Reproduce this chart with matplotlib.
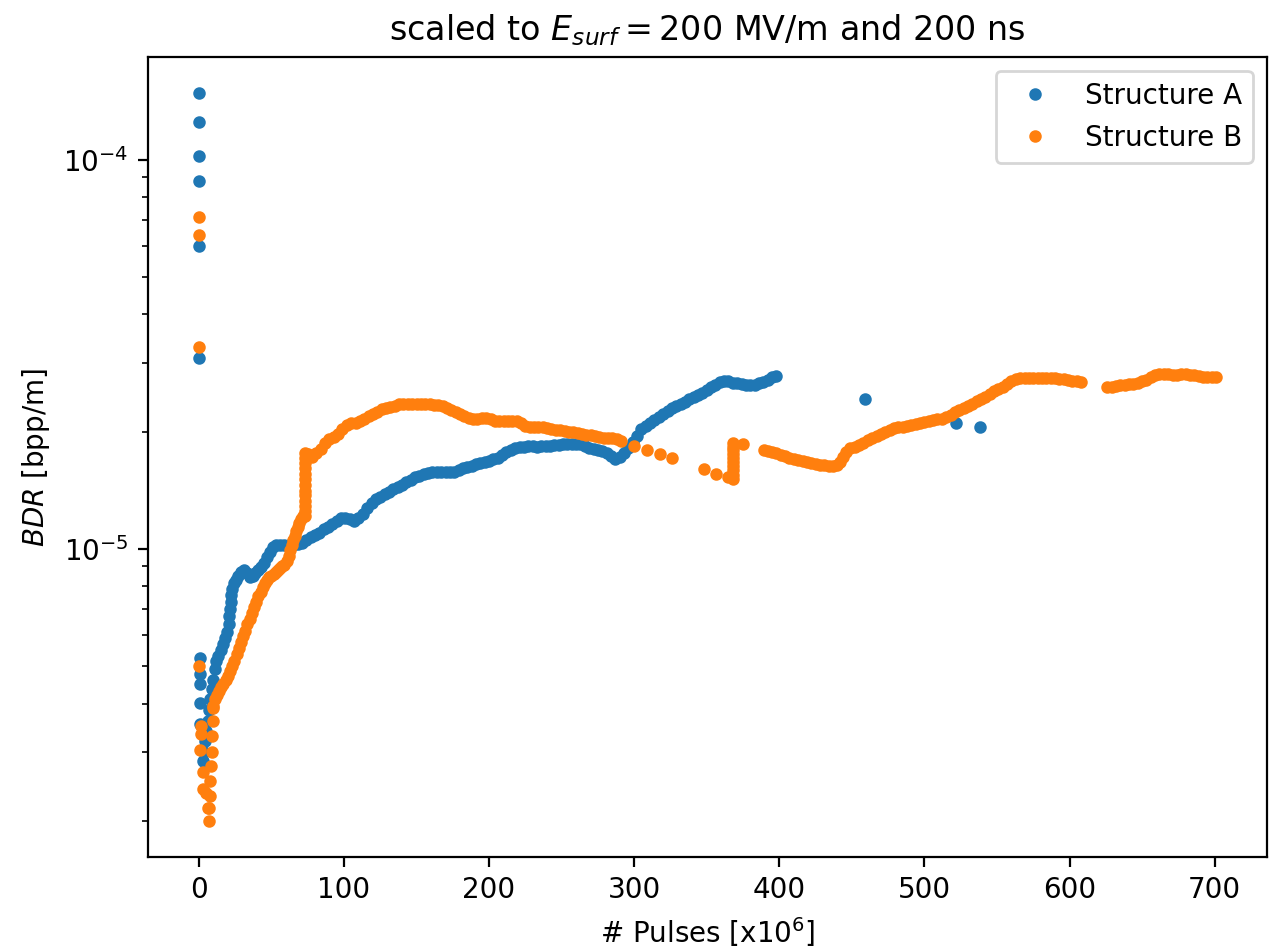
import matplotlib
matplotlib.use("Agg")
import matplotlib.pyplot as plt
import numpy as np

# BDR values are given in units of 1e-5 bpp/m, pulses in units of 1e6

# Structure A
xa = [0, 0, 0, 0, 0, 0,
      0.5, 0.5, 0.5, 0.5, 0.5,
      3, 3.5, 4, 5, 6, 7, 8, 9, 10, 11, 12, 13.5, 15, 16.5, 18, 19.5, 20.5, 21, 21.5, 22,
      22.5, 23, 24, 25.5, 27, 29, 31, 33, 35, 37, 39, 41, 43, 45, 47, 49, 51, 53, 56,
      59, 62, 65, 68, 71, 74, 77, 80, 83, 86, 89, 92, 95, 98, 101, 104, 107, 110, 113,
      116, 119, 122, 125, 128, 131, 134, 137, 140, 143, 146, 149, 152, 155, 158, 161,
      164, 167, 170, 173, 176, 179, 182, 185, 188, 191, 194, 197, 200, 203, 206, 209,
      212, 215, 218, 221, 224, 227, 230, 233, 236, 239, 242, 245, 248, 251, 254, 257,
      260, 263, 266, 269, 272, 275, 278, 281, 284, 287, 290, 293, 296, 299, 302, 305,
      308, 311, 314, 317, 320, 323, 326, 329, 332, 335, 338, 341, 344, 347, 350, 353,
      356, 359, 362, 365, 368, 371, 374, 377, 380, 383, 386, 389, 392, 395, 398,
      459, 522, 538]
ya = [14.8, 12.5, 10.2, 8.8, 6.0, 3.1,
      0.525, 0.477, 0.45, 0.402, 0.355,
      0.285, 0.30, 0.32, 0.34, 0.36, 0.385, 0.41, 0.435, 0.46, 0.49, 0.515, 0.53, 0.55,
      0.57, 0.59, 0.61, 0.64, 0.67, 0.70, 0.73,
      0.76, 0.79, 0.815, 0.83, 0.85, 0.87, 0.88, 0.865, 0.845, 0.85, 0.865, 0.88, 0.895,
      0.92, 0.95, 0.98, 1.01, 1.02, 1.02,
      1.02, 1.02, 1.025, 1.03, 1.035, 1.05, 1.07, 1.085, 1.10, 1.125, 1.14, 1.16, 1.18,
      1.20, 1.20, 1.19, 1.18, 1.20, 1.23,
      1.27, 1.31, 1.34, 1.36, 1.38, 1.40, 1.42, 1.44, 1.46, 1.48, 1.50, 1.525, 1.54,
      1.555, 1.565, 1.57,
      1.575, 1.575, 1.57, 1.57, 1.57, 1.59, 1.61, 1.625, 1.635, 1.65, 1.66, 1.67, 1.685,
      1.70, 1.715, 1.74,
      1.77, 1.79, 1.815, 1.825, 1.83, 1.835, 1.835, 1.83, 1.835, 1.84, 1.84, 1.845, 1.85,
      1.855, 1.86, 1.86,
      1.86, 1.86, 1.84, 1.82, 1.805, 1.79, 1.78, 1.76, 1.73, 1.70, 1.72, 1.76, 1.81,
      1.88, 1.95, 2.03,
      2.07, 2.10, 2.14, 2.18, 2.22, 2.26, 2.30, 2.33, 2.35, 2.38, 2.42, 2.45, 2.48, 2.52,
      2.56, 2.60,
      2.64, 2.68, 2.70, 2.69, 2.67, 2.66, 2.65, 2.64, 2.63, 2.64, 2.66, 2.68, 2.72, 2.76,
      2.78,
      2.42, 2.11, 2.05]

# Structure B
xb = [0, 0, 0, 0,
      0.5, 1.5, 1.5, 2.7, 2.7, 4.8, 6,
      9.5, 9.5, 9.3, 9, 8.5, 8, 7.5, 7.3, 7.3,
      9.5, 11, 12.5, 14, 15.5, 17, 18.5, 20, 21.5, 23, 24.5, 26, 27.5, 29, 30.5, 32,
      33.5, 35, 36.5, 38, 39.5, 41, 42.5, 44, 45.5, 47, 48.5, 50, 51.5, 53, 54.5, 56,
      57.5, 59, 60.5, 62, 63, 64, 65, 66, 67, 68, 69, 70.5, 72,
      73, 73, 73, 73, 73, 73, 73, 73, 73, 73, 73, 73, 73,
      75, 78, 81, 84, 87, 90, 93, 96, 99, 102, 105, 108, 111, 114, 117, 120, 123, 126,
      129, 132, 135, 138, 141, 144, 147, 150, 153, 156, 159, 162, 165, 168, 171, 174,
      177, 180, 183, 186, 189, 192, 195, 198, 201, 204, 207, 210, 213, 216, 219, 222,
      225, 228, 231, 234, 237, 240, 243, 246, 249, 252, 255, 258, 261, 264, 267, 270,
      273, 276, 279, 282, 285, 288, 291,
      300, 309, 318, 326, 348, 356.5, 364.5,
      368, 368, 368, 368, 368, 368, 368, 368, 368, 368, 375,
      389.5, 392, 395, 398, 401, 404, 407, 410, 413, 416, 419, 422, 425, 428, 431, 434,
      437, 440, 442, 444, 446, 449, 452, 455, 458, 461, 464, 467, 470, 473, 476, 479,
      482, 485, 488, 491, 494, 497, 500, 503, 506, 509, 512, 515, 518, 521, 524, 527,
      530, 533, 536, 539, 542, 545, 548, 551, 554, 557, 560, 563, 566, 569, 572, 575,
      578, 581, 584, 587, 590, 593, 596, 599, 602, 605, 608,
      626, 629, 632, 635, 638, 641, 644, 647, 650, 653, 656, 659, 662, 665, 668, 671,
      674, 677, 680, 683, 686, 689, 692, 695, 698, 701]
yb = [7.11, 6.39, 3.29, 0.50,
      0.303, 0.35, 0.334, 0.266, 0.241, 0.235, 0.216,
      0.39, 0.36, 0.33, 0.30, 0.277, 0.253, 0.232, 0.215, 0.20,
      0.395, 0.41, 0.42, 0.43, 0.44, 0.45, 0.46, 0.47, 0.485, 0.50, 0.515, 0.535, 0.555,
      0.575, 0.595, 0.615,
      0.64, 0.66, 0.685, 0.71, 0.73, 0.755, 0.775, 0.795, 0.815, 0.83, 0.845, 0.853,
      0.86, 0.87, 0.88, 0.89,
      0.90, 0.91, 0.93, 0.96, 0.99, 1.02, 1.05, 1.08, 1.11, 1.14, 1.165, 1.19, 1.21,
      1.21, 1.25, 1.29, 1.33, 1.37, 1.41, 1.46, 1.51, 1.56, 1.61, 1.66, 1.71, 1.76,
      1.75, 1.72, 1.76, 1.80, 1.87, 1.91, 1.94, 1.97, 2.03, 2.08, 2.10, 2.11, 2.13, 2.16,
      2.19, 2.22, 2.25, 2.28,
      2.30, 2.31, 2.33, 2.35, 2.36, 2.36, 2.36, 2.36, 2.36, 2.355, 2.35, 2.345, 2.335,
      2.325, 2.30, 2.27,
      2.245, 2.22, 2.19, 2.17, 2.15, 2.15, 2.165, 2.17, 2.15, 2.135, 2.13, 2.13, 2.13,
      2.13, 2.13, 2.10,
      2.07, 2.05, 2.05, 2.05, 2.05, 2.04, 2.03, 2.02, 2.015, 2.01, 2.00, 1.99, 1.98,
      1.97, 1.96, 1.955,
      1.95, 1.935, 1.92, 1.925, 1.93, 1.91, 1.895,
      1.84, 1.795, 1.755, 1.71, 1.60, 1.555, 1.525,
      1.51, 1.55, 1.59, 1.63, 1.67, 1.71, 1.75, 1.79, 1.83, 1.87, 1.86,
      1.79, 1.78, 1.77, 1.76, 1.745, 1.73, 1.715, 1.70, 1.69, 1.68, 1.67, 1.66, 1.65,
      1.645, 1.64, 1.635,
      1.635, 1.645, 1.67, 1.72, 1.77, 1.81, 1.83, 1.85, 1.87, 1.90, 1.93, 1.95, 1.97,
      2.00, 2.02, 2.04,
      2.05, 2.06, 2.07, 2.08, 2.09, 2.10, 2.12, 2.13, 2.14, 2.15, 2.16, 2.18, 2.21,
      2.24, 2.27, 2.30,
      2.32, 2.35, 2.39, 2.42, 2.46, 2.50, 2.54, 2.58, 2.61, 2.65, 2.70, 2.73, 2.74,
      2.745, 2.75, 2.75,
      2.75, 2.75, 2.745, 2.74, 2.74, 2.735, 2.73, 2.72, 2.70, 2.69, 2.68,
      2.60, 2.61, 2.62, 2.63, 2.635, 2.645, 2.65, 2.66, 2.69, 2.72, 2.76, 2.80, 2.81,
      2.81, 2.81, 2.80,
      2.80, 2.81, 2.81, 2.80, 2.79, 2.78, 2.77, 2.77, 2.76, 2.76]

labels = ["Structure A", "Structure B"]

fig = plt.figure(figsize=(6.4, 4.76), dpi=200)
ax = fig.add_axes([0.1156, 0.0998, 0.8742, 0.8403])

ax.plot(xa, np.array(ya) * 1e-5, '.', ms=7, label=labels[0])
ax.plot(xb, np.array(yb) * 1e-5, '.', ms=7, label=labels[1])

ax.set_yscale('log')
ax.set_title(r'scaled to $E_{surf} = 200$ MV/m and 200 ns')
ax.set_xlabel(r'# Pulses [x$10^6$]')
ax.set_ylabel(r'$BDR$ [bpp/m]')
ax.legend(loc='upper right')

fig.savefig('out.png', dpi=200)
